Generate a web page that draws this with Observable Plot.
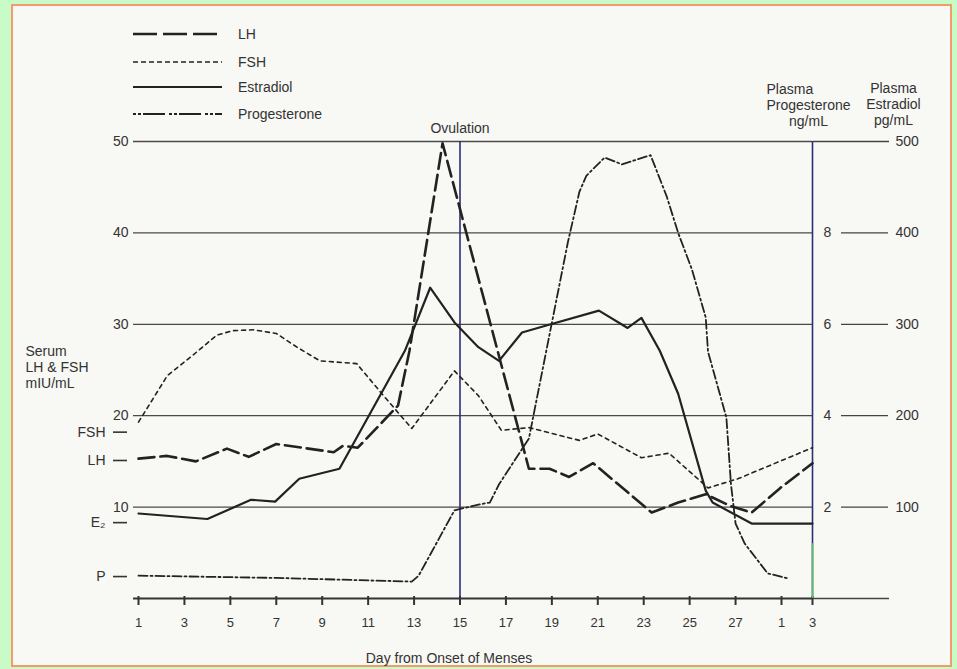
<!DOCTYPE html>
<html><head><meta charset="utf-8">
<script src="https://cdn.jsdelivr.net/npm/d3@7"></script>
<script src="https://cdn.jsdelivr.net/npm/@observablehq/plot@0.6"></script>
<style>
html,body{margin:0;padding:0;background:#c9fbc9;width:957px;height:669px;overflow:hidden;}
#wrap{position:relative;width:957px;height:669px;}
#box{position:absolute;left:11px;top:4px;width:937px;height:659px;border:2px solid #f29c6b;background:#f8f8f5;}
#chart{position:absolute;left:0;top:0;}
</style></head><body><div id="wrap"><div id="box"></div><div id="chart"></div></div>
<script>
// ---- data ----
const tickDays = [1,3,5,7,9,11,13,15,17,19,21,23,25,27,29,31];
const ovulationDay = 15;
const rightAxisDay = 31;

// LH, mIU/mL
const lhDay = [1,2.25,3.5,4.85,5.8,7.0,9.5,9.9,10.55,12.3,12.8,14.24,18.0,18.9,19.75,20.8,23.35,24.5,25.7,26.8,27.7,28.95,31];
const lhVal = [15.3,15.6,15.0,16.4,15.5,16.9,16.0,16.7,16.5,21.1,27.1,49.8,14.2,14.2,13.3,14.8,9.4,10.5,11.4,10.1,9.4,12.1,14.8];

// FSH, mIU/mL
const fshDay = [1,2.26,3.6,4.4,5.1,6.0,7.0,7.9,8.9,10.5,11.6,12.9,14.76,15.8,16.8,18.0,20.2,21.0,22.9,24.1,25.8,27.1,31];
const fshVal = [19.3,24.4,27.1,28.8,29.3,29.4,29.0,27.5,26.0,25.7,22.4,18.6,24.9,22.2,18.4,18.7,17.3,18.0,15.4,15.9,12.1,13.1,16.5];

// Estradiol, pg/mL
const e2Day = [1,4.0,5.9,6.95,8.0,9.75,12.6,13.7,14.76,15.8,16.7,17.7,18.8,21.05,22.3,22.9,23.7,24.5,25.7,26.0,27.7,31];
const e2Val = [93,87,108,106,131,142,271,340,302,275,260,291,299,315,296,307,271,224,118,105,82,82];

// Progesterone, ng/mL
const pDay = [1,7,12.9,13.2,14.76,15.85,16.3,16.7,18.0,18.75,19.7,20.2,20.5,21.3,22.05,23.3,24.0,24.5,25.1,25.7,25.8,26.6,26.8,27.0,27.4,28.4,29.4];
const pVal = [0.5,0.45,0.37,0.5,1.93,2.06,2.1,2.5,3.5,5.4,7.8,8.9,9.25,9.65,9.5,9.7,8.8,8.0,7.2,6.15,5.4,3.96,2.5,1.64,1.2,0.55,0.44];

// left-axis ticks and series start markers (mIU/mL scale)
const leftTicks = [10,20,30,40,50];
const rightTicks = [10,20,30,40];
const markerVal = [18.2,15.1,8.3,2.4];
const markerName = ["FSH","LH","E\u2082","P"];

const legendNames = ["LH","FSH","Estradiol","Progesterone"];

// ---- build ----
const toRows = (ds, vs) => ds.map((d, i) => ({day: d, v: vs[i]}));
const lh = toRows(lhDay, lhVal), fsh = toRows(fshDay, fshVal), e2 = toRows(e2Day, e2Val), prog = toRows(pDay, pVal);
const markerMap = new Map(markerVal.map((v, i) => [v, markerName[i]]));

const FONT = '"Liberation Sans Narrow","Arial Narrow","Liberation Sans",Arial,sans-serif';
const INK = "#222";
const NAVY = "#2e2e73";
const TXT = {fontSize: 14, fill: "#333", lineAnchor: "middle", lineHeight: 1.15};

const plot = Plot.plot({
  width: 957, height: 669,
  marginLeft: 133, marginRight: 145, marginTop: 141, marginBottom: 71,
  style: {background: "transparent", fontFamily: FONT, fontSize: "13px", color: "#333"},
  x: {type: "linear", domain: [1, 29, 31], range: [138, 781, 812]},
  y: {domain: [0, 50]},
  marks: [
    Plot.ruleY(leftTicks, {stroke: "#4a4a4a", strokeWidth: 1.3}),
    Plot.ruleY([0], {stroke: "#333", strokeWidth: 2}),
    // extensions to the right of the right axis
    Plot.axisY([0, 50], {anchor: "right", tickSize: 76, tickFormat: d => d === 50 ? String(d * 10) : "", tickPadding: 7, stroke: "#444", strokeWidth: 1.6, fontSize: 14, label: null}),
    Plot.axisY(rightTicks, {anchor: "right", tickSize: 0, tickPadding: 11, tickFormat: d => d / 5, fontSize: 14, label: null}),
    Plot.axisY(rightTicks, {anchor: "right", dx: 28, tickSize: 47, tickPadding: 8, tickFormat: d => d * 10, stroke: "#444", strokeWidth: 1.3, fontSize: 14, label: null}),
    // left axis
    Plot.axisY(leftTicks, {anchor: "left", tickSize: 0, tickPadding: 5, fontSize: 14, label: null}),
    Plot.axisY(markerVal, {anchor: "left", dx: -6, tickSize: 14, tickPadding: 8, tickFormat: d => markerMap.get(d), stroke: "#333", strokeWidth: 1.6, fontSize: 14, label: null}),
    // x axis
    Plot.axisX(tickDays, {tickSize: 9, dy: -2, tickPadding: 12, tickFormat: d => d > 28 ? d - 28 : d, stroke: "#333", strokeWidth: 2, fontSize: 13, label: null}),
    // verticals
    Plot.ruleX([ovulationDay], {stroke: NAVY, strokeWidth: 1.6}),
    Plot.ruleX([rightAxisDay], {stroke: NAVY, strokeWidth: 1.6}),
    Plot.ruleX([rightAxisDay], {y1: 0, y2: 6, stroke: "#5cbf5c", strokeWidth: 1.6}),
    // series
    Plot.line(fsh, {x: "day", y: "v", stroke: INK, strokeWidth: 1.6, strokeDasharray: "4,4"}),
    Plot.line(prog, {x: "day", y: d => d.v * 5, stroke: INK, strokeWidth: 1.8, strokeDasharray: "9,3,2,3"}),
    Plot.line(e2, {x: "day", y: d => d.v / 10, stroke: INK, strokeWidth: 2.2}),
    Plot.line(lh, {x: "day", y: "v", stroke: INK, strokeWidth: 2.6, strokeDasharray: "16,6"}),
    // annotations
    Plot.text([ovulationDay], {x: d => d, text: () => "Ovulation", frameAnchor: "top", dy: -14, textAnchor: "middle", ...TXT}),
    Plot.text(["Serum\nLH & FSH\nmIU/mL"], {frameAnchor: "top-left", dx: -108, dy: 225, textAnchor: "start", ...TXT}),
    Plot.text(["Plasma\nProgesterone"], {frameAnchor: "top-right", dx: -46, dy: -45, textAnchor: "start", ...TXT}),
    Plot.text(["ng/mL"], {frameAnchor: "top-right", dx: -4, dy: -21, textAnchor: "middle", ...TXT}),
    Plot.text(["Plasma\nEstradiol\npg/mL"], {frameAnchor: "top-right", dx: 81, dy: -38, textAnchor: "middle", ...TXT}),
    Plot.text(["Day from Onset of Menses"], {frameAnchor: "bottom", dx: -24, dy: 59, textAnchor: "middle", ...TXT})
  ]
});
document.getElementById("chart").appendChild(plot);

// legend (drawn into the same svg)
const svg = d3.select(plot);
const lg = svg.append("g").attr("font-family", FONT).attr("font-size", 14).attr("fill", "#333").attr("text-anchor", "start");
const legendStyle = [
  {w: 2.6, dash: "24,6"}, {w: 1.6, dash: "5,3"}, {w: 2.2, dash: null}, {w: 1.8, dash: "3,2,3,2,22,4"}
];
const legendY = [34, 62, 87, 114];
legendNames.forEach((name, i) => {
  lg.append("line").attr("x1", 133).attr("x2", 222).attr("y1", legendY[i]).attr("y2", legendY[i])
    .attr("stroke", INK).attr("stroke-width", legendStyle[i].w).attr("stroke-dasharray", legendStyle[i].dash);
  lg.append("text").attr("x", 238).attr("y", legendY[i]).attr("dy", "0.35em").attr("text-anchor", "start").text(name);
});
</script></body></html>
